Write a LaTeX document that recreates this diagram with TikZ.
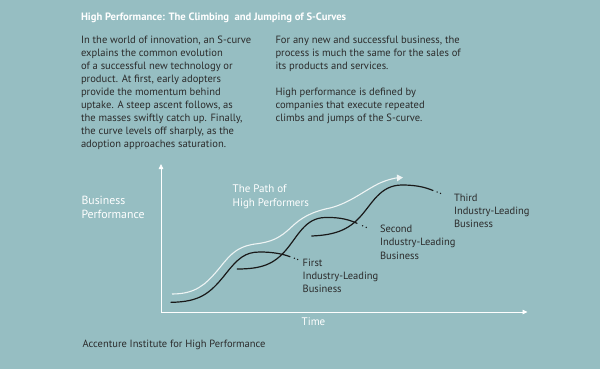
\documentclass[tikz,border=0pt]{standalone}
\usepackage{fontspec}
\setmainfont{PT Sans}
\usetikzlibrary{arrows.meta}
\definecolor{bg}{HTML}{96BEC2}
\definecolor{txt}{HTML}{2B2B2B}
\definecolor{pathw}{HTML}{EEF4F4}
\newcommand\tblock[3]{\parbox[t]{300pt}{\fontsize{#1}{#2}\selectfont\raggedright #3}}
\tikzset{
  lbl/.style={anchor=base west, inner sep=0pt, outer sep=0pt},
  dark/.style={lbl, text=txt},
  light/.style={lbl, text=white},
  axis/.style={draw=white, line width=0.8pt, -{Triangle[length=5pt,width=4.5pt]}},
  scurve/.style={draw=black!90, line width=1.2pt, line cap=round},
  hpath/.style={draw=pathw, line width=1.1pt, -{Triangle[length=6pt,width=6.5pt]}},
  enddot/.style={fill=black!90, draw=none}
}
\begin{document}
\begin{tikzpicture}[x=1pt,y=-1pt]
\path[use as bounding box, fill=bg] (0,0) rectangle (600,369);
% title
\node[light] (title) at (81,20.7) {\fontsize{10.65}{13}\selectfont\bfseries High Performance: The Climbing\ \ and Jumping of S-Curves};
% paragraphs
\node[dark] (paraL) at (81,43.3) {\tblock{10.55}{13pt}{In the world of innovation, an S-curve\\explains the common evolution\\of a successful new technology or\\product. At first, early adopters\\provide the momentum behind\\uptake. A steep ascent follows, as\\the masses swiftly catch up. Finally,\\the curve levels off sharply, as the\\adoption approaches saturation.}};
\node[dark] (paraR) at (275.5,43.3) {\tblock{10.55}{13pt}{For any new and successful business, the\\process is much the same for the sales of\\its products and services.\\[13pt]High performance is defined by\\companies that execute repeated\\climbs and jumps of the S-curve.}};
% axis labels
\node[light] (ylab) at (81.5,204) {\tblock{11.8}{14.3pt}{Business\\Performance}};
\node[light] (xlab) at (301.7,325.7) {\fontsize{11}{13}\selectfont Time};
\node[light] (hp) at (232.7,192.7) {\tblock{11}{13.3pt}{The Path of\\High Performers}};
% business labels
\node[dark] (b1) at (302.7,266) {\tblock{10.5}{13.2pt}{First\\Industry-Leading\\Business}};
\node[dark] (b2) at (380,232.7) {\tblock{10.5}{13.2pt}{Second\\Industry-Leading\\Business}};
\node[dark] (b3) at (454,201) {\tblock{10.5}{13.2pt}{Third\\Industry-Leading\\Business}};
\node[dark] (src) at (82.7,347.3) {\fontsize{10.5}{13}\selectfont Accenture Institute for High Performance};
% axes
\coordinate (O) at (161,312);
\coordinate (ytip) at (161,164);
\coordinate (xtip) at (527.5,312);
\draw[axis] (O) -- (ytip);
\draw[axis] (O) -- (xtip);
% path of high performers
\draw[hpath] (172,294) .. controls (195,294) and (205,285) .. (217,271)
  .. controls (228,258) and (234,247) .. (255,244)
  .. controls (272,242) and (280,238) .. (292,226.5)
  .. controls (300,219) and (310,212) .. (330,208)
  .. controls (350,203) and (365,190) .. (380,183)
  .. controls (388,179.5) and (395,178) .. (403,177.5);
% S-curves
\draw[scurve] (171,302.3) .. controls (200,302) and (210,293) .. (224,276)
  .. controls (238,258) and (245,252) .. (260,252)
  .. controls (273,252) and (283,254) .. (290,256.7);
\fill[enddot] (294.3,258.2) circle (0.75pt) (297.6,259.4) circle (0.75pt);
\draw[scurve] (237.3,269) .. controls (262,269) and (274,264) .. (286,250)
  .. controls (298,236) and (305,218) .. (325,217.5)
  .. controls (340,217) and (350,220) .. (357,223.3);
\fill[enddot] (362.6,225.8) circle (0.75pt) (366.2,227.3) circle (0.75pt);
\draw[scurve] (311.7,236) .. controls (335,235) and (348,230) .. (360,217)
  .. controls (372,204) and (380,185) .. (402,185)
  .. controls (418,185) and (427,188) .. (433,190.5);
\fill[enddot] (437.2,192) circle (0.75pt) (440.5,193.4) circle (0.75pt);
\end{tikzpicture}
\end{document}
